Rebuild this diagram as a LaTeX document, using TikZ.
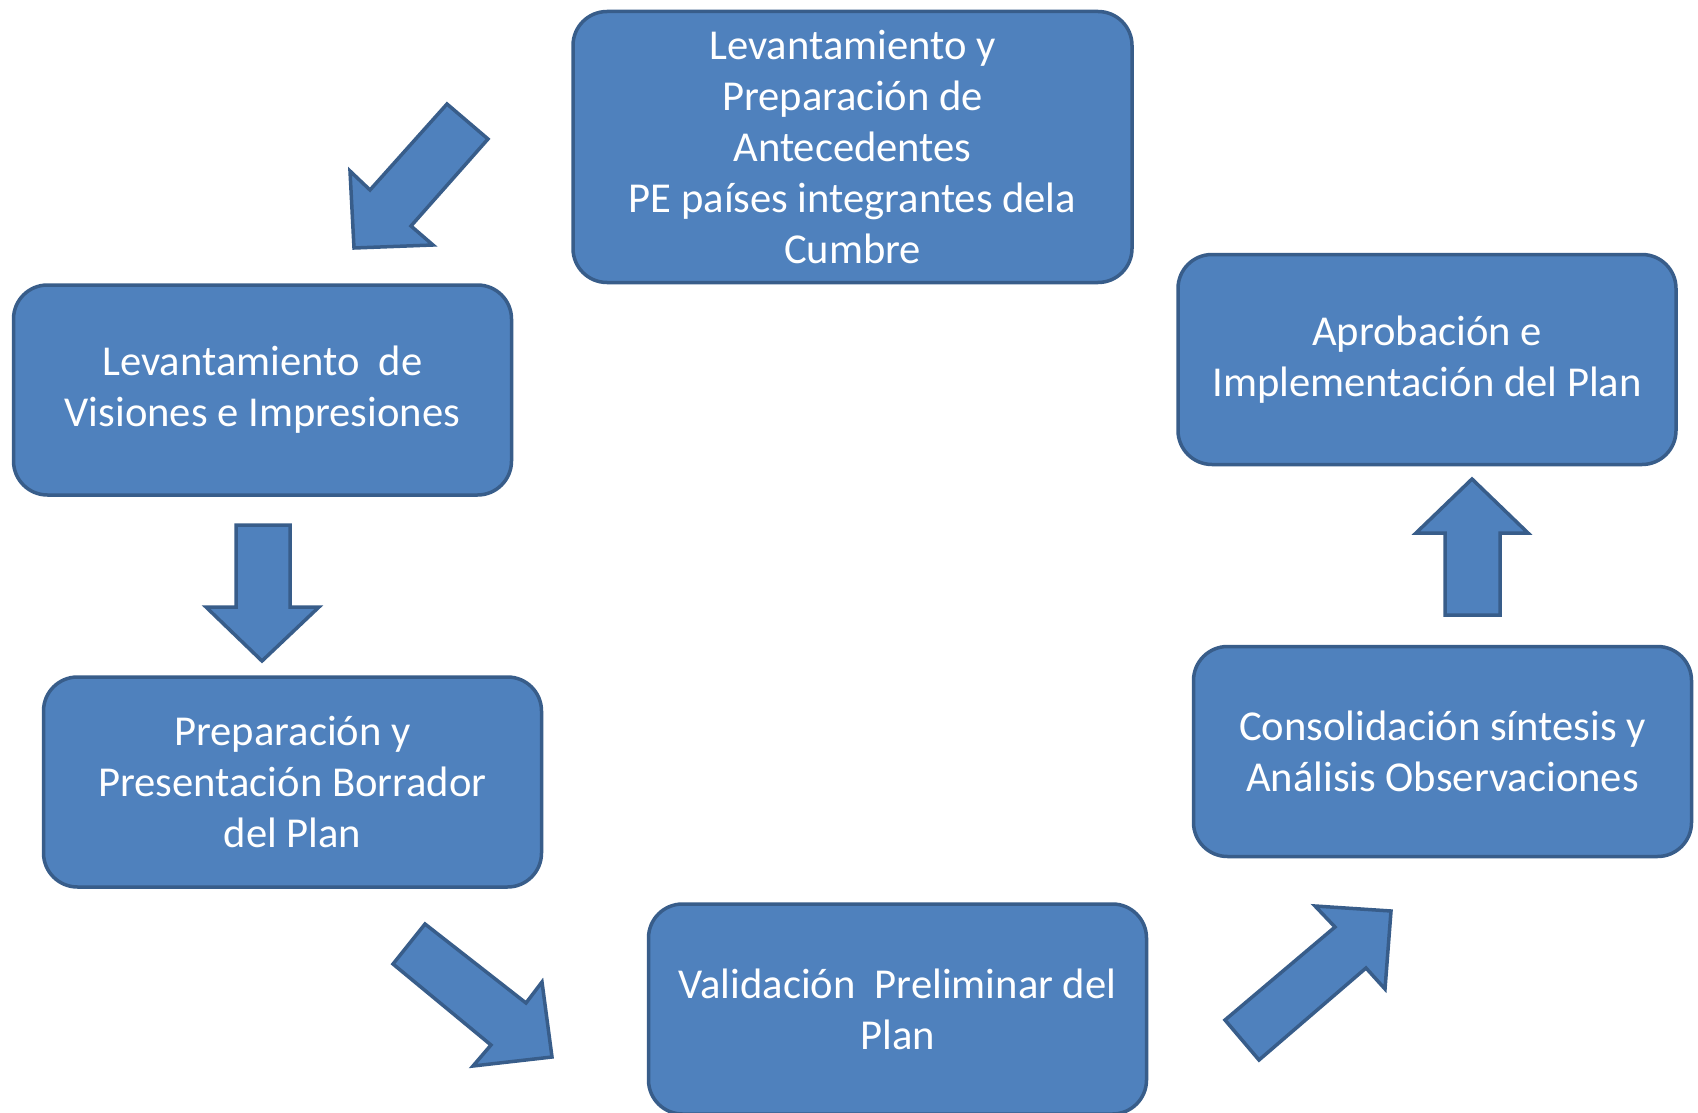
\documentclass[tikz,border=0pt]{standalone}
\usepackage{fontspec}
\setmainfont{Carlito}
\definecolor{boxfill}{HTML}{4F81BD}
\definecolor{boxline}{HTML}{385D8A}
\begin{document}
\begin{tikzpicture}[x=1pt,y=-1pt,
  stepbox/.style={draw=boxline, fill=boxfill, line width=3.5pt, rounded corners=34pt,
    text=white, align=center, font=\fontsize{42.6}{51}\selectfont, inner sep=0pt},
  blockarrow/.style={draw=boxline, fill=boxfill, line width=3.5pt, line join=miter}]
\useasboundingbox (0,0) rectangle (1698,1113);
\fill[white] (0,0) rectangle (1698,1113);

% boxes
\node[stepbox, minimum width=559pt, minimum height=271pt] (b1) at (852.5,147)
  {Levantamiento y\\Preparación de\\Antecedentes\\PE países integrantes dela\\Cumbre};
\node[stepbox, minimum width=498pt, minimum height=210pt] (b2) at (262.5,390)
  {Levantamiento\ \ de\\Visiones e Impresiones};
\node[stepbox, minimum width=498pt, minimum height=210pt] (b3) at (292.5,782)
  {Preparación y\\Presentación Borrador\\del Plan};
\node[stepbox, minimum width=498pt, minimum height=210pt] (b4) at (897.5,1009)
  {Validación\ \ Preliminar del\\Plan};
\node[stepbox, minimum width=498pt, minimum height=210pt] (b5) at (1442.5,751.5)
  {Consolidación síntesis y\\Análisis Observaciones};
\node[stepbox, minimum width=498pt, minimum height=210pt] (b6) at (1427,359.5)
  {Aprobación e\\Implementación del Plan};

% block arrows
\draw[blockarrow] (447,104) -- (488,139) -- (411,226) -- (433,245) -- (354,248)
  -- (350,171) -- (370,190) -- cycle;
\draw[blockarrow] (236,525) -- (290,525) -- (290,607) -- (319,607) -- (262,661)
  -- (206,607) -- (236,607) -- cycle;
\draw[blockarrow] (425,924) -- (393,964) -- (491,1045) -- (473,1066) -- (552,1057)
  -- (542,982) -- (526,1003) -- cycle;
\draw[blockarrow] (1225,1020) -- (1259,1060) -- (1366,968) -- (1385,989) -- (1391,911)
  -- (1315,906) -- (1335,927) -- cycle;
\draw[blockarrow] (1472,479) -- (1528,533) -- (1500,533) -- (1500,615) -- (1445,615)
  -- (1445,533) -- (1416,533) -- cycle;
\end{tikzpicture}
\end{document}
